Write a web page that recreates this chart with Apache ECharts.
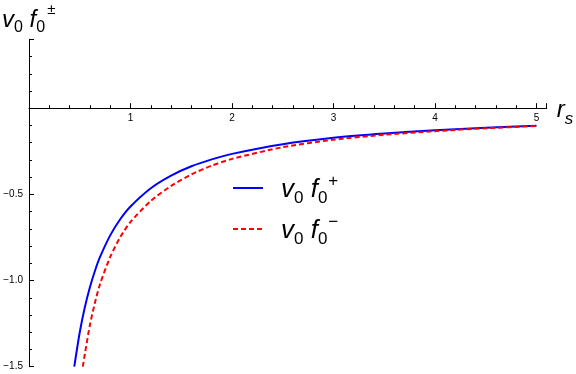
<!DOCTYPE html>
<html>
<head>
<meta charset="utf-8">
<script src="https://cdn.jsdelivr.net/npm/echarts@6/dist/echarts.min.js"></script>
<style>
html,body{margin:0;padding:0;background:#fff;}
#chart{width:576px;height:374px;}
</style>
</head>
<body>
<div id="chart"></div>
<script>
// Values
var rPlus = [0.446, 0.5, 0.55, 0.6, 0.65, 0.7, 0.8, 0.9, 1.0, 1.2, 1.4, 1.6, 1.8, 2.0, 2.5, 3.0, 3.5, 4.0, 4.5, 5.0];
var vPlus = [-1.50, -1.30, -1.155, -1.039, -0.943, -0.863, -0.738, -0.643, -0.570, -0.464, -0.391, -0.337, -0.297, -0.265, -0.209, -0.172, -0.147, -0.128, -0.113, -0.101];
var rMinus = [0.53, 0.55, 0.6, 0.65, 0.7, 0.8, 0.9, 1.0, 1.2, 1.4, 1.6, 1.8, 2.0, 2.5, 3.0, 3.5, 4.0, 4.5, 5.0];
var vMinus = [-1.50, -1.427, -1.258, -1.128, -1.020, -0.863, -0.747, -0.660, -0.538, -0.451, -0.384, -0.333, -0.294, -0.226, -0.183, -0.154, -0.133, -0.116, -0.103];
var xTicks = [1, 2, 3, 4, 5];
var yTicks = [-1.5, -1.0, -0.5];

function pairs(xs, ys){ return xs.map(function(x,i){ return [x, ys[i]]; }); }

var chart = echarts.init(document.getElementById('chart'));
var FONT = 'Liberation Sans';
var legendRich = {
  i: {fontFamily: FONT, fontStyle: 'italic', fontSize: 26, color: '#000', lineHeight: 30, verticalAlign: 'bottom'},
  s: {fontFamily: FONT, fontSize: 17, color: '#000', lineHeight: 30, verticalAlign: 'bottom', padding: [0,0,-4,0]},
  p: {fontFamily: FONT, fontSize: 17, color: '#000', lineHeight: 30, verticalAlign: 'top', padding: [0,0,0,1]}
};
chart.setOption({
  animation: false,
  backgroundColor: '#fff',
  grid: {left: 29, right: 29.3, top: 39.3, bottom: 7.3, containLabel: false, outerBoundsMode: 'none'},
  xAxis: {
    type: 'value', min: 0, max: 5.1, interval: 1,
    offset: -258.5,
    name: '{i|r}{s|s}', nameLocation: 'end', nameGap: 10,
    nameTextStyle: {rich: {
      i: {fontFamily: FONT, fontStyle: 'italic', fontSize: 24, color: '#000', lineHeight: 28, verticalAlign: 'bottom'},
      s: {fontFamily: FONT, fontStyle: 'italic', fontSize: 17, color: '#000', lineHeight: 28, verticalAlign: 'bottom', padding: [0,0,-6,0]}
    }},
    axisLine: {onZero: false, lineStyle: {color: '#000', width: 1}},
    axisTick: {inside: true, length: 5, lineStyle: {color: '#000'}},
    minorTick: {show: true, splitNumber: 5, length: 3, lineStyle: {color: '#000'}},
    splitLine: {show: false},
    axisLabel: {fontFamily: FONT, fontSize: 10, color: '#000', margin: 5,
      formatter: function(v){ return xTicks.indexOf(v) >= 0 ? String(v) : ''; }}
  },
  yAxis: {
    type: 'value', min: -1.5, max: 0.4, interval: 0.5,
    axisLine: {onZero: false, lineStyle: {color: '#000', width: 1}},
    axisTick: {inside: true, length: 5, lineStyle: {color: '#000'}},
    minorTick: {show: true, splitNumber: 5, length: 3, lineStyle: {color: '#000'}},
    splitLine: {show: false},
    axisLabel: {fontFamily: FONT, fontSize: 10, color: '#000', margin: 6,
      showMaxLabel: false,
      formatter: function(v){
        var r = Math.round(v*10)/10;
        return yTicks.indexOf(r) >= 0 ? '\u2212' + Math.abs(r).toFixed(1) : '';
      }}
  },
  legend: {
    show: true,
    orient: 'vertical', left: 227, top: 168, itemWidth: 30, itemHeight: 10, itemGap: 7,
    itemStyle: {opacity: 0},
    textStyle: {rich: legendRich, padding: [0, 0, 0, 13]},
    formatter: function(name){
      return name === 'plus' ? '{i|v}{s|0}{i| f}{s|0}{p|+}' : '{i|v}{s|0}{i| f}{s|0}{p|\u2212}';
    },
    data: ['plus', 'minus']
  },
  graphic: [{
    type: 'text', left: 2, top: 2,
    style: {
      text: '{i|v}{s|0}{i| f}{s|0}{p|\u00b1}',
      rich: {
        i: {fontFamily: FONT, fontStyle: 'italic', fontSize: 24, fill: '#000', lineHeight: 30, verticalAlign: 'bottom'},
        s: {fontFamily: FONT, fontSize: 16, fill: '#000', lineHeight: 30, verticalAlign: 'bottom', padding: [0,0,-4,0]},
        p: {fontFamily: FONT, fontSize: 15, fill: '#000', lineHeight: 30, verticalAlign: 'top', padding: [0,0,0,2]}
      }
    }
  }],
  series: [
    {name: 'plus', type: 'line', data: pairs(rPlus, vPlus), smooth: 0.25, showSymbol: false, symbol: 'none',
      lineStyle: {color: '#0000ff', width: 2}, itemStyle: {color: '#0000ff'}},
    {name: 'minus', type: 'line', data: pairs(rMinus, vMinus), smooth: 0.25, showSymbol: false, symbol: 'none',
      lineStyle: {color: '#ff0000', width: 2, type: [5, 3]}, itemStyle: {color: '#ff0000'}}
  ]
});
</script>
</body>
</html>
